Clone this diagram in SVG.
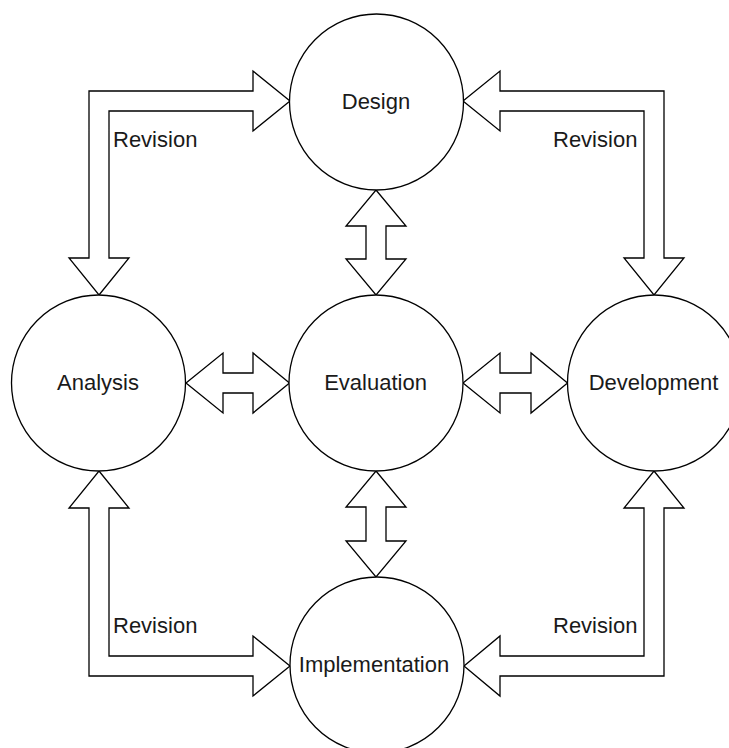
<svg xmlns="http://www.w3.org/2000/svg" width="729" height="748" viewBox="0 0 729 748">
<style>
.node{fill:#fff;stroke:#000;stroke-width:1.3}
.arr{fill:#fff;stroke:#000;stroke-width:1.3;stroke-linejoin:miter}
.lbl{font-family:"Liberation Sans",Arial,sans-serif;font-size:22px;fill:#1a1a1a;text-anchor:middle}
.rev{font-family:"Liberation Sans",Arial,sans-serif;font-size:22px;fill:#1a1a1a}
</style>
<rect width="729" height="748" fill="#fff"/>
<g id="connectors">
<polygon class="arr" points="99,295 129,258 109,258 109,111 253,111 253,131 290,101 253,71 253,91 89,91 89,258 69,258"/>
<polygon class="arr" points="463,101 500,71 500,91 664,91 664,258 684,258 654,295 624,258 644,258 644,111 500,111 500,131"/>
<polygon class="arr" points="99,471 129,508 109,508 109,656 253,656 253,636 290,666 253,696 253,676 89,676 89,508 69,508"/>
<polygon class="arr" points="654,471 684,508 664,508 664,676 500,676 500,696 464,666 500,636 500,656 644,656 644,508 624,508"/>
<polygon class="arr" points="376,190 406,226 386,226 386,259 406,259 376,295 346,259 366,259 366,226 346,226"/>
<polygon class="arr" points="376,471 406,507 386,507 386,541 406,541 376,577 346,541 366,541 366,507 346,507"/>
<polygon class="arr" points="186,383 223,353 223,373 253,373 253,353 289.5,383 253,413 253,393 223,393 223,413"/>
<polygon class="arr" points="463,383 500,353 500,373 531,373 531,353 567.5,383 531,413 531,393 500,393 500,413"/>
<text class="rev" x="113" y="147">Revision</text>
<text class="rev" x="553" y="147">Revision</text>
<text class="rev" x="113" y="633">Revision</text>
<text class="rev" x="553" y="633">Revision</text>
</g>
<g id="design">
<ellipse class="node" cx="376.5" cy="102" rx="87" ry="88"/>
<text class="lbl" x="376" y="109">Design</text>
</g>
<g id="analysis">
<ellipse class="node" cx="98.5" cy="383" rx="87" ry="88"/>
<text class="lbl" x="98" y="390">Analysis</text>
</g>
<g id="evaluation">
<ellipse class="node" cx="376" cy="383" rx="87" ry="88"/>
<text class="lbl" x="375.5" y="390">Evaluation</text>
</g>
<g id="development">
<ellipse class="node" cx="654.5" cy="383" rx="87" ry="88"/>
<text class="lbl" x="653.5" y="390">Development</text>
</g>
<g id="implementation">
<ellipse class="node" cx="377" cy="665" rx="87" ry="88"/>
<text class="lbl" x="374" y="672">Implementation</text>
</g>
</svg>
